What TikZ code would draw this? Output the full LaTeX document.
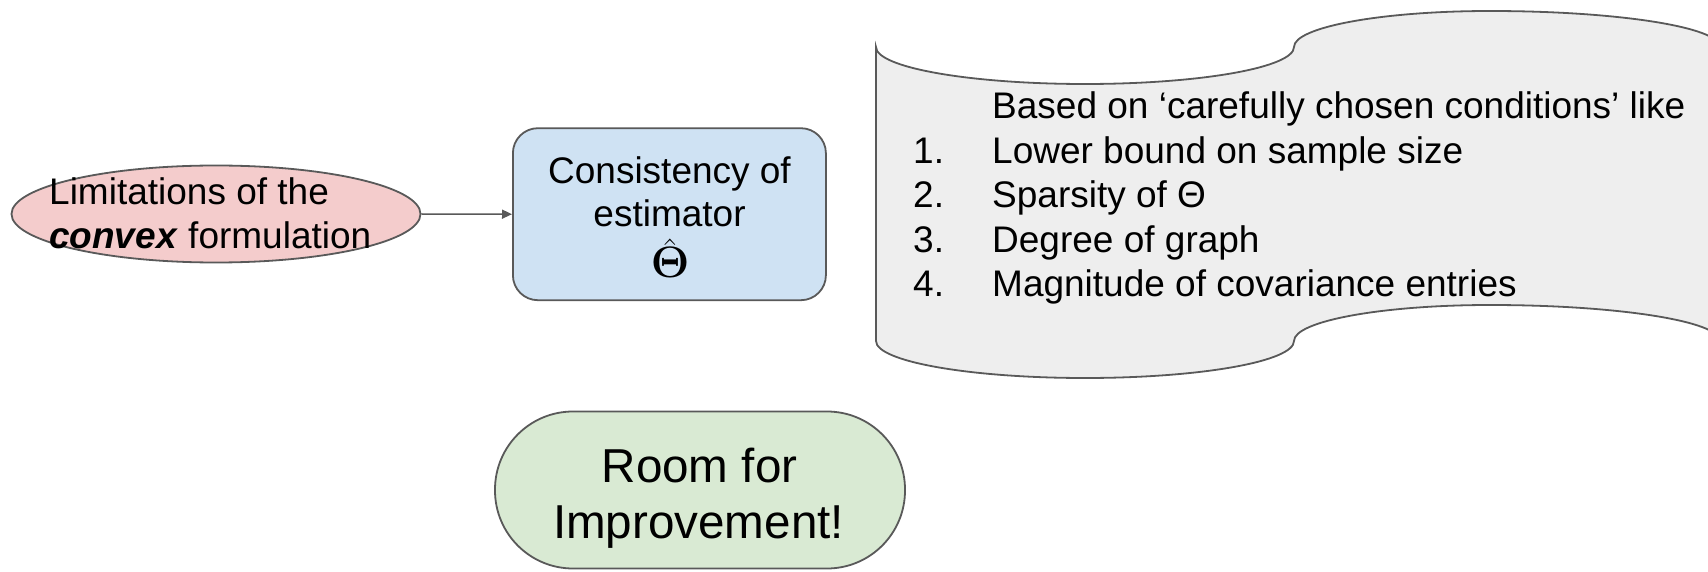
\RequirePackage{fix-cm}
\documentclass[tikz,border=0pt]{standalone}
\usepackage[no-math]{fontspec}
\setmainfont{Liberation Sans}
\usetikzlibrary{shapes.geometric,arrows.meta}

\definecolor{edge}{HTML}{595959}
\definecolor{limfill}{HTML}{F4CCCC}
\definecolor{estfill}{HTML}{CFE2F3}
\definecolor{roomfill}{HTML}{D9EAD3}
\definecolor{scrollfill}{HTML}{EEEEEE}

% estimator symbol with its hat set a little closer to the letter
\newcommand{\thetahat}{\rlap{\raisebox{-3pt}{$\hat{\phantom{\mathbf{\Theta}}}$}}$\mathbf{\Theta}$}

\tikzset{
  shapeline/.style={draw=edge, line width=1.8pt},
  label37/.style={font=\fontsize{37}{44}\selectfont, inner sep=0pt, text=black},
  label48/.style={font=\fontsize{47.6}{56}\selectfont, inner sep=0pt, text=black},
  symbol44/.style={font=\fontsize{44}{50}\selectfont, inner sep=0pt, text=black},
  limshape/.style={shapeline, ellipse, fill=limfill, minimum width=409pt, minimum height=97pt, inner sep=0pt},
  estshape/.style={shapeline, rectangle, rounded corners=25pt, fill=estfill, minimum width=313pt, minimum height=172pt, inner sep=0pt},
  roomshape/.style={shapeline, rectangle, rounded corners=78pt, fill=roomfill, minimum width=410pt, minimum height=157pt, inner sep=0pt},
  flow/.style={draw=edge, line width=1.5pt, -{Triangle[length=10pt,width=9pt]}},
}

\begin{document}
\begin{tikzpicture}[x=1pt, y=1pt]
  \clip (0,0) rectangle (1708,571);
  \fill[white] (0,0) rectangle (1708,571);

  % wavy banner holding the list of conditions
  \filldraw[shapeline, fill=scrollfill]
    (876,524)
    arc[start angle=180, end angle=360, x radius=209pt, y radius=37pt]
    arc[start angle=180, end angle=90,  x radius=196pt, y radius=36pt]
    arc[start angle=90,  end angle=0,   x radius=230pt, y radius=36pt]
    -- ++(0,-294)
    arc[start angle=0,   end angle=90,  x radius=230pt, y radius=36pt]
    arc[start angle=90,  end angle=180, x radius=196pt, y radius=36pt]
    arc[start angle=0,   end angle=-180, x radius=209pt, y radius=37pt]
    -- cycle;

  \node[label37, anchor=base west] (cond0) at (992,452) {Based on ‘carefully chosen conditions’ like};
  \node[label37, anchor=base west] (num1) at (913,407) {1.};
  \node[label37, anchor=base west] (cond1) at (992,407) {Lower bound on sample size};
  \node[label37, anchor=base west] (num2) at (913,363) {2.};
  \node[label37, anchor=base west] (cond2) at (992,363) {Sparsity of Θ};
  \node[label37, anchor=base west] (num3) at (913,318) {3.};
  \node[label37, anchor=base west] (cond3) at (992,318) {Degree of graph};
  \node[label37, anchor=base west] (num4) at (913,274) {4.};
  \node[label37, anchor=base west] (cond4) at (992,274) {Magnitude of covariance entries};

  % left ellipse
  \node[limshape] (lim) at (216,357) {};
  \node[label37, anchor=base west] (limA) at (49,366) {Limitations of the};
  \node[label37, anchor=base west] (limB) at (49,322) {\textbf{\textit{convex}} formulation};

  % estimator box
  \node[estshape] (est) at (669.4,356.8) {};
  \node[label37, anchor=base] (estA) at (669.5,387) {Consistency of};
  \node[label37, anchor=base] (estB) at (669.5,344) {estimator};
  \node[symbol44, anchor=base] (estC) at (670,293) {\thetahat};

  \draw[flow] (lim.east) -- (est.west);

  % bottom rounded box
  \node[roomshape] (room) at (700,81) {};
  \node[label48, anchor=base] (roomA) at (699.5,89) {Room for};
  \node[label48, anchor=base] (roomB) at (698.5,33) {Improvement!};
\end{tikzpicture}
\end{document}
